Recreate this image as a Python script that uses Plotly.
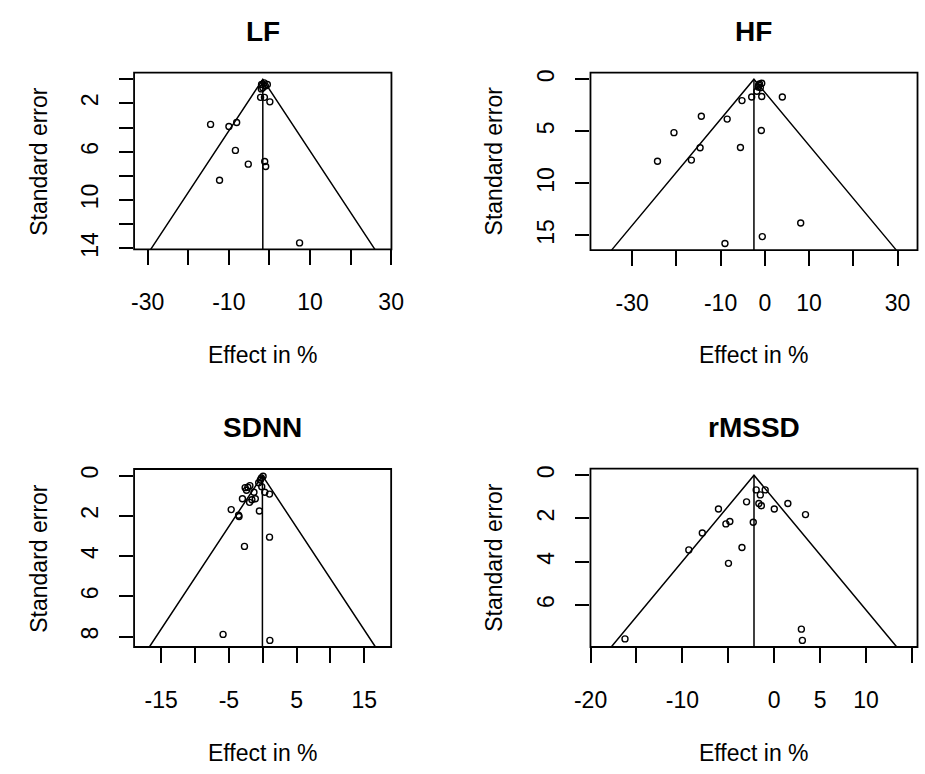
import plotly.graph_objects as go

W, H = 925, 774
FONT = "Liberation Sans, Arial, sans-serif"

# Study effects (%) and their standard errors, one pair of lists per HRV measure
lf_effect = [-1.94, -0.51, -1.63, -1.3, -2.0, -1.0, -2.18, -1.23, 0.11,
             -14.5, -9.98, -8.07, -8.38, -5.21, -1.16, -0.92, -12.29, 7.43]
lf_se = [0.44, 0.44, 0.7, 0.3, 0.8, 0.55, 1.50, 1.50, 1.87,
         3.74, 3.91, 3.58, 5.89, 7.03, 6.81, 7.22, 8.36, 13.55]

hf_effect = [-0.7, -1.2, -1.5, -1.0, -1.8, -1.4, -2.97, -0.7, 3.96, -5.16,
             -14.35, -8.51, -20.54, -0.79, -14.63, -5.51, -16.6, -24.26,
             8.11, -0.57, -9.01]
hf_se = [0.38, 0.45, 0.75, 0.8, 1.15, 0.55, 1.7, 1.65, 1.7, 2.05,
         3.55, 3.83, 5.13, 4.93, 6.58, 6.55, 7.77, 7.88,
         13.82, 15.12, 15.79]

sdnn_effect = [0.05, -0.2, -0.35, -0.6, -0.15, -1.9, -2.6, -2.4, -1.3, 0.3,
               1.0, -3.0, -1.6, -1.1, -1.95, -4.66, -0.5, -3.57, -3.5, 1.0,
               -2.7, -5.86, 1.05, -2.2]
sdnn_se = [0.03, 0.12, 0.22, 0.36, 0.55, 0.5, 0.6, 0.73, 0.83, 0.83,
           0.92, 1.15, 1.2, 1.15, 1.33, 1.69, 1.76, 1.97, 2.03, 3.06,
           3.52, 7.89, 8.19, 0.58]

rmssd_effect = [-1.96, -0.98, -1.51, -3.01, -1.67, -1.40, 1.49, -6.07, 0.01,
                3.41, -4.83, -5.26, -2.28, -7.83, -9.3, -3.51, -4.98, 2.96,
                3.07, -16.25]
rmssd_se = [0.68, 0.68, 0.91, 1.23, 1.31, 1.41, 1.31, 1.56, 1.56,
            1.82, 2.14, 2.25, 2.17, 2.67, 3.45, 3.34, 4.07, 7.11,
            7.63, 7.56]

# Pooled (fixed-effect) estimate for each measure: centre of the funnel
pooled = {"LF": -1.63, "HF": -2.46, "SDNN": -0.05, "rMSSD": -2.2}

# Axis ticks; empty strings are ticks whose labels are skipped
x_ticks = {
    "LF": [-30, -20, -10, 0, 10, 20, 30],
    "HF": [-30, -20, -10, 0, 10, 20, 30],
    "SDNN": [-15, -10, -5, 0, 5, 10, 15],
    "rMSSD": [-20, -15, -10, -5, 0, 5, 10, 15],
}
x_tick_text = {
    "LF": ["-30", "", "-10", "", "10", "", "30"],
    "HF": ["-30", "", "-10", "0", "10", "", "30"],
    "SDNN": ["-15", "", "-5", "", "5", "", "15"],
    "rMSSD": ["-20", "", "-10", "", "0", "5", "10", ""],
}
y_ticks = {
    "LF": [0, 2, 4, 6, 8, 10, 12, 14],
    "HF": [0, 5, 10, 15],
    "SDNN": [0, 2, 4, 6, 8],
    "rMSSD": [0, 2, 4, 6],
}
y_tick_text = {
    "LF": ["", "2", "", "6", "", "10", "", "14"],
    "HF": ["0", "5", "10", "15"],
    "SDNN": ["0", "2", "4", "6", "8"],
    "rMSSD": ["0", "2", "4", "6"],
}

data = {
    "LF": (lf_effect, lf_se),
    "HF": (hf_effect, hf_se),
    "SDNN": (sdnn_effect, sdnn_se),
    "rMSSD": (rmssd_effect, rmssd_se),
}

# Panel geometry in pixels: plot box (left, top, right, bottom), x range,
# and centres of the title, x label and y label
panels = {
    "LF": dict(box=(121, 70.7, 387, 250), xr=(-33.35, 30.07),
               title_y=29.3, xlab_y=357.5, ylab_x=22.5),
    "HF": dict(box=(592.7, 70.7, 930.7, 250.7), xr=(-39.41, 33.27),
               title_y=29.3, xlab_y=357.5, ylab_x=493),
    "SDNN": dict(box=(121, 472.7, 386.7, 653.3), xr=(-19.0, 18.96),
                 title_y=430.8, xlab_y=760.8, ylab_x=22.5),
    "rMSSD": dict(box=(592.7, 472.3, 930.7, 653.3), xr=(-20.01, 15.01),
                  title_y=430.8, xlab_y=760.8, ylab_x=493),
}

fig = go.Figure()
shapes = []
annotations = []
layout = {}

for i, name in enumerate(["LF", "HF", "SDNN", "rMSSD"], start=1):
    eff, se = data[name]
    p = panels[name]
    left, top, right, bottom = p["box"]
    xa = "x" if i == 1 else f"x{i}"
    ya = "y" if i == 1 else f"y{i}"
    se_max = max(se)
    y_bottom = se_max * 1.04
    y_top = -se_max * 0.04
    c = pooled[name]

    # Funnel: pooled estimate +/- 1.96 * SE down to the bottom of the axis
    half = 1.96 * y_bottom
    fig.add_trace(go.Scatter(
        x=[c - half, c, c + half], y=[y_bottom, 0, y_bottom],
        mode="lines", line=dict(color="black", width=1.5),
        xaxis=xa, yaxis=ya, hoverinfo="skip", showlegend=False))
    fig.add_trace(go.Scatter(
        x=[c, c], y=[0, y_bottom],
        mode="lines", line=dict(color="black", width=1.5),
        xaxis=xa, yaxis=ya, hoverinfo="skip", showlegend=False))
    fig.add_trace(go.Scatter(
        x=eff, y=se, mode="markers",
        marker=dict(symbol="circle-open", size=6, color="black",
                    line=dict(color="black", width=1.4)),
        xaxis=xa, yaxis=ya, showlegend=False, cliponaxis=False))

    x_dom = [left / W, min(right, W) / W]
    y_dom = [1 - bottom / H, 1 - top / H]
    axis_common = dict(
        showgrid=False, zeroline=False, showline=False,
        ticks="outside", tickcolor="black", tickwidth=1.8,
        tickfont=dict(family=FONT, size=23, color="black"),
    )
    layout["xaxis" if i == 1 else f"xaxis{i}"] = dict(
        axis_common, domain=x_dom, range=list(p["xr"]), anchor=ya,
        tickmode="array", tickvals=x_ticks[name], ticktext=x_tick_text[name],
        ticklen=15, ticklabelstandoff=17)
    layout["yaxis" if i == 1 else f"yaxis{i}"] = dict(
        axis_common, domain=y_dom, range=[y_bottom, y_top], anchor=xa,
        tickmode="array", tickvals=y_ticks[name], ticktext=y_tick_text[name],
        ticklen=14, tickangle=-90, ticklabelstandoff=12)

    # Plot box (right edge of the right-hand panels lies past the page edge)
    shapes.append(dict(type="rect", xref="paper", yref="paper",
                       x0=left / W, x1=right / W,
                       y0=1 - bottom / H, y1=1 - top / H,
                       line=dict(color="black", width=1.8),
                       fillcolor="rgba(0,0,0,0)", layer="above"))

    cx = (left + right) / 2
    annotations.append(dict(
        text=f"<b>{name}</b>", x=cx / W, y=1 - p["title_y"] / H,
        xref="paper", yref="paper", showarrow=False,
        xanchor="center", yanchor="middle",
        font=dict(family=FONT, size=28, color="black")))
    annotations.append(dict(
        text="Effect in %", x=cx / W, y=1 - p["xlab_y"] / H,
        xref="paper", yref="paper", showarrow=False,
        xanchor="center", yanchor="middle",
        font=dict(family=FONT, size=23, color="black")))
    annotations.append(dict(
        text="Standard error", x=p["ylab_x"] / W, y=1 - (top + bottom) / 2 / H,
        xref="paper", yref="paper", showarrow=False, textangle=-90,
        xanchor="center", yanchor="middle",
        font=dict(family=FONT, size=23, color="black")))

fig.update_layout(
    width=W, height=H,
    margin=dict(l=0, r=0, t=0, b=0),
    paper_bgcolor="white", plot_bgcolor="white",
    shapes=shapes, annotations=annotations,
    **layout,
)

fig.write_html("out.html", config={"displayModeBar": False})
